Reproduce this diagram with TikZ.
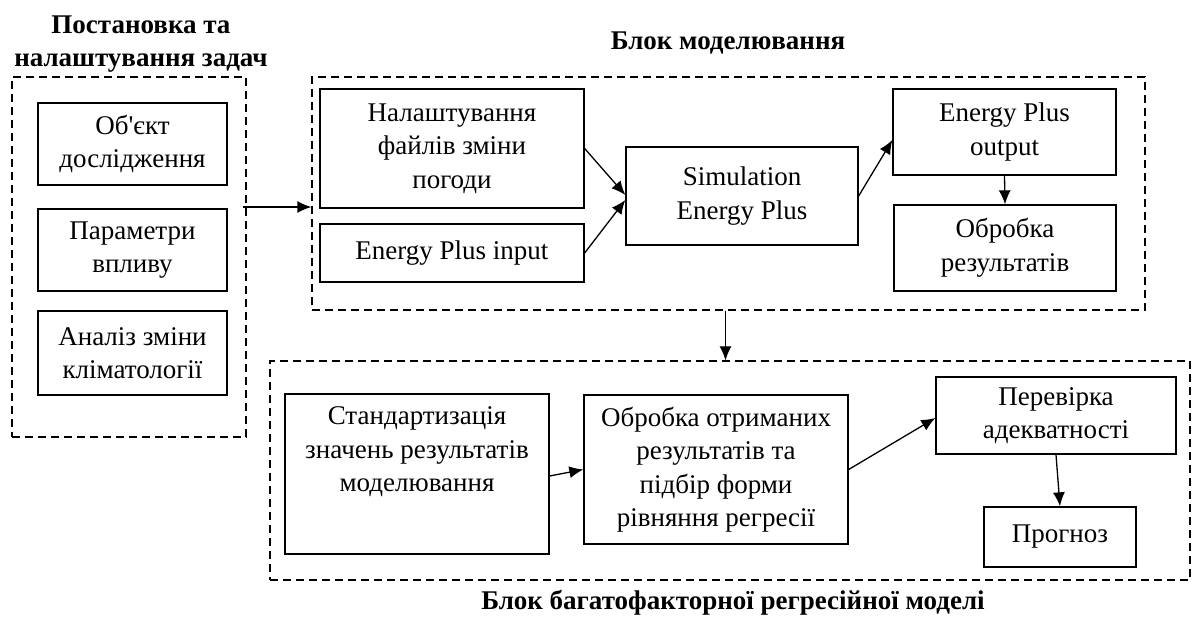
\documentclass[tikz,border=0pt]{standalone}
\usepackage{fontspec}
\setmainfont{Liberation Serif}
\newfontfamily\rawserif{Liberation Serif}
\usetikzlibrary{arrows.meta,calc}
\begin{document}
\begin{tikzpicture}[x=1pt,y=-1pt,
  box/.style={draw,line width=1.3pt,align=center,inner sep=0pt,font=\fontsize{27}{33.5}\selectfont},
  boxtext/.style={align=center,inner sep=0pt,font=\fontsize{27}{33.5}\selectfont},
  grp/.style={draw,line width=1.3pt,dash pattern=on 8pt off 5pt,inner sep=0pt},
  ttl/.style={align=center,inner sep=0pt,font=\fontsize{27}{33.5}\selectfont\bfseries},
  arr/.style={line width=1.3pt,-{Latex[length=14pt,width=12pt]}}]
\fill[white] (0,0) rectangle (1195,617);
\useasboundingbox (0,0) rectangle (1195,617);

% groups
\node[grp,minimum width=234pt,minimum height=360pt] (ldash) at (129,257) {};
\node[grp,minimum width=833pt,minimum height=233pt] (mdash) at (728.5,193.5) {};
\node[grp,minimum width=920pt,minimum height=219pt] (bdash) at (730,470.5) {};

% titles
\node[ttl] (t1) at (141,44) {Постановка та\\налаштування задач};
\node[ttl] (t2) at (728,43) {Блок моделювання};
\node[ttl] (t3) at (733,603) {Блок багатофакторної регресійної моделі};

% left block
\node[box,minimum width=189pt,minimum height=82pt] (obj) at (132.5,144) {Об{\rawserif\char39}єкт\\дослідження};
\node[box,minimum width=189pt,minimum height=82pt] (par) at (132.5,250) {Параметри\\впливу};
\node[box,minimum width=189pt,minimum height=84pt] (anl) at (132.5,353) {Аналіз зміни\\кліматології};

% middle block
\node[box,minimum width=264pt,minimum height=119pt] (nal) at (452,148.5) {Налаштування\\файлів зміни\\погоди};
\node[box,minimum width=264pt,minimum height=58pt] (epin) at (452,253) {Energy Plus input};
\node[box,minimum width=232pt,minimum height=98pt] (sim) at (742,196) {Simulation\\Energy Plus};
\node[box,minimum width=223pt,minimum height=86pt] (epout) at (1004.5,132) {Energy Plus\\output};
\node[box,minimum width=222pt,minimum height=86pt] (obr) at (1005,248) {Обробка\\результатів};

% bottom block
\node[box,minimum width=264pt,minimum height=160pt] (std) at (417,474) {};
\node[boxtext] (stdt) at (417,452) {Стандартизація\\значень результатів\\моделювання};
\node[box,minimum width=264pt,minimum height=149pt] (obro) at (716,469.5) {Обробка отриманих\\результатів та\\підбір форми\\рівняння регресії};
\node[box,minimum width=240pt,minimum height=77pt] (perev) at (1056,415.5) {Перевірка\\адекватності};
\node[box,minimum width=152pt,minimum height=60pt] (prog) at (1060,537) {Прогноз};

% connectors
\draw[arr] ([xshift=-4pt,yshift=50pt]ldash.east) -- ([yshift=50pt]ldash.east -| mdash.west);
\draw[arr] (nal.east) -- ([yshift=1pt]sim.west);
\draw[arr] (epin.east) -- ([yshift=-4pt]sim.west);
\draw[arr] (sim.east) -- ([yshift=-8pt]epout.west);
\draw[arr] (epout.south) -- (obr.north);
\draw[arr] ([xshift=-3pt]mdash.south) -- ([xshift=-3pt]mdash.south |- bdash.north);
\draw[arr] ([yshift=-2pt]std.east) -- (obro.west);
\draw[arr] (obro.east) -- ([yshift=-2.5pt]perev.west);
\draw[arr] (perev.south) -- (prog.north);
\end{tikzpicture}
\end{document}
